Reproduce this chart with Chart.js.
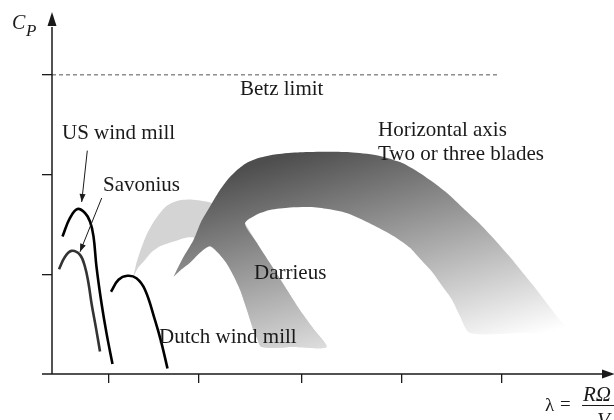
<!DOCTYPE html>
<html>
<head>
<meta charset="utf-8">
<script src="https://cdn.jsdelivr.net/npm/chart.js@4.4.0/dist/chart.umd.min.js"></script>
<style>
  html, body { margin: 0; padding: 0; background: #fff; }
  #wrap { width: 614px; height: 420px; }
</style>
</head>
<body>
<div id="wrap"><canvas id="cpChart" width="614" height="420"></canvas></div>
<script>
// tip speed ratio (x) vs power coefficient Cp (y)
const betzLimit = 0.6;
const betzSpanX = [1, 9.9];

const xTicks = [2.14, 3.94, 6, 8, 10];
const yTicks = [0.2, 0.4, 0.6];

const usWindMillX = [1.21, 1.36, 1.51, 1.66, 1.76, 1.83, 1.89, 1.99, 2.09, 2.21];
const usWindMillY = [0.276, 0.313, 0.331, 0.323, 0.306, 0.276, 0.215, 0.142, 0.082, 0.020];

const savoniusX = [1.14, 1.26, 1.39, 1.56, 1.66, 1.73, 1.79, 1.88, 1.96];
const savoniusY = [0.210, 0.235, 0.247, 0.239, 0.215, 0.182, 0.142, 0.092, 0.045];

const dutchX = [2.18, 2.33, 2.51, 2.69, 2.86, 3.06, 3.19, 3.31];
const dutchY = [0.165, 0.189, 0.197, 0.192, 0.169, 0.108, 0.062, 0.011];

// outline of the Darrieus band: outer edge, right leg, inner edge
const darrieusX = [2.55, 2.62, 2.68, 2.76, 2.88, 3.03, 3.16, 3.29, 3.44, 3.59, 3.78, 3.96, 4.20, 4.46, 4.70, 4.86,
  5.10, 5.36, 5.66, 5.96, 6.22, 6.49, 5.84, 5.19, 5.10, 5.03, 4.90, 4.76, 4.62, 4.49, 4.32, 4.16,
  4.00, 3.86, 3.70, 3.53, 3.34, 3.16, 2.98, 2.83, 2.72, 2.64];
const darrieusY = [0.169, 0.193, 0.219, 0.245, 0.277, 0.305, 0.323, 0.337, 0.345, 0.349, 0.350, 0.348, 0.343, 0.333, 0.319, 0.302,
  0.263, 0.222, 0.175, 0.128, 0.092, 0.054, 0.054, 0.054, 0.072, 0.088, 0.128, 0.169, 0.199, 0.222, 0.243, 0.256,
  0.267, 0.273, 0.274, 0.269, 0.263, 0.256, 0.243, 0.225, 0.213, 0.197];

// outline of the horizontal axis band, joined with the Darrieus right leg
const horizontalX = [3.43, 3.62, 3.83, 3.98, 4.16, 4.32, 4.49, 4.68, 4.89, 5.16, 5.49, 5.96, 6.49, 6.96, 7.49,
  7.96, 8.26, 8.56, 8.90, 9.22, 9.56, 9.86, 10.14, 10.40, 10.66, 10.92, 11.16, 11.40, 10.38, 9.36,
  9.16, 9.00, 8.80, 8.60, 8.36, 8.16, 7.92, 7.69, 7.30, 6.89, 6.52, 6.16, 5.76, 5.36, 5.08, 4.86,
  5.10, 5.36, 5.66, 5.96, 6.22, 6.49, 5.84, 5.19, 5.10, 5.03, 4.90, 4.76, 4.62, 4.49, 4.32, 4.16,
  3.96, 3.76, 3.58];
const horizontalY = [0.195, 0.233, 0.269, 0.305, 0.336, 0.363, 0.387, 0.407, 0.423, 0.434, 0.441, 0.445, 0.446, 0.445, 0.439,
  0.425, 0.409, 0.389, 0.363, 0.333, 0.301, 0.269, 0.237, 0.205, 0.173, 0.139, 0.108, 0.082, 0.082, 0.082,
  0.116, 0.149, 0.177, 0.205, 0.231, 0.253, 0.271, 0.285, 0.305, 0.323, 0.331, 0.335, 0.334, 0.329, 0.319, 0.302,
  0.263, 0.222, 0.175, 0.128, 0.092, 0.054, 0.054, 0.054, 0.072, 0.088, 0.128, 0.169, 0.199, 0.222, 0.243, 0.256,
  0.243, 0.223, 0.209];

const pts = (xs, ys) => xs.map((x, i) => ({ x, y: ys[i] }));

const ink = '#1a1a1a';
const serif = '"Liberation Serif", "DejaVu Serif", serif';

// text labels and pointer arrows, placed in data units
const notes = [
  { text: 'US wind mill', x: 1.2, y: 0.4716 },
  { text: 'Savonius', x: 2.02, y: 0.3672 },
  { text: 'Betz limit', x: 4.76, y: 0.5599 },
  { text: 'Horizontal axis', x: 7.52, y: 0.4776 },
  { text: 'Two or three blades', x: 7.52, y: 0.4295 },
  { text: 'Darrieus', x: 5.04, y: 0.1906 },
  { text: 'Dutch wind mill', x: 3.14, y: 0.0628 }
];
const pointers = [
  { from: [1.706, 0.448], to: [1.594, 0.345] },
  { from: [1.994, 0.353], to: [1.56, 0.245] }
];

function bandFill(context) {
  const { ctx, chartArea } = context.chart;
  if (!chartArea) return '#888';
  const g = ctx.createLinearGradient(chartArea.left + 248, chartArea.top + 127,
                                     chartArea.left + 314, chartArea.top + 359);
  g.addColorStop(0, '#4e4e4e');
  g.addColorStop(1, '#ffffff');
  return g;
}

function arrowHead(ctx, x0, y0, x1, y1, len, half) {
  const a = Math.atan2(y1 - y0, x1 - x0);
  ctx.beginPath();
  ctx.moveTo(x1, y1);
  ctx.lineTo(x1 - len * Math.cos(a) + half * Math.sin(a), y1 - len * Math.sin(a) - half * Math.cos(a));
  ctx.lineTo(x1 - len * Math.cos(a) - half * Math.sin(a), y1 - len * Math.sin(a) + half * Math.cos(a));
  ctx.closePath();
  ctx.fill();
}

const decorations = {
  id: 'decorations',
  afterDraw(chart) {
    const { ctx, chartArea: a, scales: { x, y } } = chart;
    ctx.save();
    ctx.strokeStyle = ink;
    ctx.fillStyle = ink;

    // axes with arrows
    ctx.lineWidth = 1.5;
    ctx.beginPath();
    ctx.moveTo(a.left - 10, a.bottom);
    ctx.lineTo(a.right + 2, a.bottom);
    ctx.moveTo(a.left, a.bottom);
    ctx.lineTo(a.left, a.top + 2);
    ctx.stroke();
    arrowHead(ctx, a.left, a.top + 10, a.left, a.top - 13, 14, 4.5);
    arrowHead(ctx, a.right - 10, a.bottom, a.right + 13, a.bottom, 13, 4.5);

    // pointer arrows
    ctx.lineWidth = 1;
    pointers.forEach(p => {
      const x0 = x.getPixelForValue(p.from[0]), y0 = y.getPixelForValue(p.from[1]);
      const x1 = x.getPixelForValue(p.to[0]), y1 = y.getPixelForValue(p.to[1]);
      ctx.beginPath();
      ctx.moveTo(x0, y0);
      ctx.lineTo(x1, y1);
      ctx.stroke();
      arrowHead(ctx, x0, y0, x1, y1, 8, 3);
    });

    // labels
    ctx.textBaseline = 'alphabetic';
    ctx.textAlign = 'left';
    ctx.font = '21px ' + serif;
    notes.forEach(n => ctx.fillText(n.text, x.getPixelForValue(n.x), y.getPixelForValue(n.y)));

    // axis titles
    ctx.font = 'italic 20px ' + serif;
    ctx.fillText('C', a.left - 40, a.top + 4);
    ctx.font = 'italic 17px ' + serif;
    ctx.fillText('P', a.left - 26, a.top + 11);

    ctx.font = '19px ' + serif;
    ctx.fillText('λ', a.left + 493, a.bottom + 37);
    ctx.fillText('=', a.left + 508, a.bottom + 36);
    ctx.font = 'italic 21px ' + serif;
    ctx.fillText('RΩ', a.left + 531, a.bottom + 27);
    ctx.fillText('V', a.left + 545, a.bottom + 53);
    ctx.lineWidth = 1;
    ctx.beginPath();
    ctx.moveTo(a.left + 530, a.bottom + 31.5);
    ctx.lineTo(a.left + 572, a.bottom + 31.5);
    ctx.stroke();
    ctx.restore();
  }
};

new Chart(document.getElementById('cpChart'), {
  type: 'line',
  data: {
    datasets: [
      { label: 'US wind mill', data: pts(usWindMillX, usWindMillY), borderColor: '#000', borderWidth: 2.6, tension: 0.4, fill: false },
      { label: 'Savonius', data: pts(savoniusX, savoniusY), borderColor: '#333', borderWidth: 2.6, tension: 0.4, fill: false },
      { label: 'Dutch wind mill', data: pts(dutchX, dutchY), borderColor: '#000', borderWidth: 2.6, tension: 0.4, fill: false },
      { label: 'Betz limit', data: pts(betzSpanX, [betzLimit, betzLimit]), borderColor: '#555', borderWidth: 1, borderDash: [4, 3], fill: false },
      { label: 'Horizontal axis', data: pts(horizontalX, horizontalY), borderColor: 'rgba(0,0,0,0)', borderWidth: 0, backgroundColor: bandFill, tension: 0.25, fill: 'shape' },
      { label: 'Darrieus', data: pts(darrieusX, darrieusY), borderColor: 'rgba(0,0,0,0)', borderWidth: 0, backgroundColor: '#d4d4d4', tension: 0.25, fill: 'shape' }
    ]
  },
  options: {
    responsive: false,
    animation: false,
    layout: { padding: { left: 42, right: 12, top: 25, bottom: 37 } },
    elements: { point: { radius: 0, hoverRadius: 0 } },
    plugins: { legend: { display: false }, tooltip: { enabled: false } },
    scales: {
      x: {
        type: 'linear', min: 1, max: 12,
        afterBuildTicks: s => { s.ticks = xTicks.map(v => ({ value: v })); },
        ticks: { display: false },
        border: { display: false },
        grid: { drawOnChartArea: false, drawTicks: true, tickLength: 9, color: ink, lineWidth: 1.3 }
      },
      y: {
        min: 0, max: 0.7,
        afterBuildTicks: s => { s.ticks = yTicks.map(v => ({ value: v })); },
        ticks: { display: false },
        border: { display: false },
        grid: { drawOnChartArea: false, drawTicks: true, tickLength: 10, color: ink, lineWidth: 1.3 }
      }
    }
  },
  plugins: [decorations]
});
</script>
</body>
</html>
